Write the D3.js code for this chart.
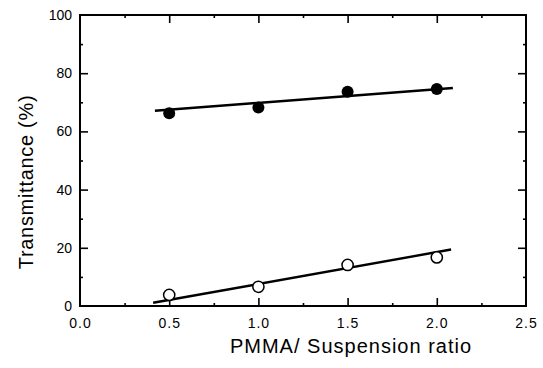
<!DOCTYPE html>
<html><head><meta charset="utf-8">
<script src="https://cdn.jsdelivr.net/npm/d3@7"></script>
<style>body{margin:0;background:#fff}svg{display:block}</style>
</head><body><svg id="c" width="543" height="368"></svg>
<script>
const ratios = [0.5, 1.0, 1.5, 2.0];
const filledValues = [66.2, 68.2, 73.6, 74.6];
const openValues = [3.8, 6.6, 14.1, 16.7];
const filledFit = [[0.42, 67.1], [2.09, 74.9]];
const openFit = [[0.41, 1.1], [2.08, 19.4]];
const xTicks = [0.0, 0.5, 1.0, 1.5, 2.0, 2.5];
const yTicks = [0, 20, 40, 60, 80, 100];
const xMinor = [0.25, 0.75, 1.25, 1.75, 2.25];
const yMinor = [10, 30, 50, 70, 90];
const xTitle = "PMMA/ Suspension ratio";
const yTitle = "Transmittance (%)";

const svg = d3.select("#c");
const L = 80, R = 526, T = 15, B = 306;
const x = d3.scaleLinear().domain([0, 2.5]).range([L, R]);
const y = d3.scaleLinear().domain([0, 100]).range([B, T]);
const font = "'Liberation Sans', Arial, sans-serif";

// frame
svg.append("rect").attr("x", L).attr("y", T).attr("width", R - L).attr("height", B - T)
  .attr("fill", "none").attr("stroke", "#000").attr("stroke-width", 2);

function axis(gen, tr, size, vals) {
  const g = svg.append("g").attr("transform", tr)
    .call(gen.tickValues(vals).tickSize(size).tickFormat(""));
  g.select(".domain").remove();
  g.selectAll(".tick line").attr("stroke", "#000").attr("stroke-width", 1.6);
  return g;
}
// inward ticks
axis(d3.axisBottom(x), `translate(0,${B})`, -8, xTicks.slice(1, -1));
axis(d3.axisBottom(x), `translate(0,${B})`, -3, xMinor);
axis(d3.axisTop(x), `translate(0,${T})`, -8, xTicks.slice(1, -1));
axis(d3.axisTop(x), `translate(0,${T})`, -3, xMinor);
axis(d3.axisLeft(y), `translate(${L},0)`, -8, yTicks.slice(1, -1));
axis(d3.axisLeft(y), `translate(${L},0)`, -3, yMinor);
axis(d3.axisRight(y), `translate(${R},0)`, -8, yTicks.slice(1, -1));
axis(d3.axisRight(y), `translate(${R},0)`, -3, yMinor);

// tick labels
const xl = svg.append("g").attr("transform", `translate(0,${B})`)
  .call(d3.axisBottom(x).tickValues(xTicks).tickSize(0).tickPadding(12).tickFormat(d3.format(".1f")));
xl.select(".domain").remove();
xl.selectAll("text").attr("font-family", font).attr("font-size", 14).attr("letter-spacing", 1).attr("fill", "#000");
const yl = svg.append("g").attr("transform", `translate(${L},0)`)
  .call(d3.axisLeft(y).tickValues(yTicks).tickSize(0).tickPadding(8).tickFormat(d3.format("d")));
yl.select(".domain").remove();
yl.selectAll("text").attr("font-family", font).attr("font-size", 14).attr("fill", "#000");

// fit lines
const line = d3.line().x(d => x(d[0])).y(d => y(d[1]));
svg.append("path").attr("d", line(filledFit)).attr("fill", "none").attr("stroke", "#000").attr("stroke-width", 2.4);
svg.append("path").attr("d", line(openFit)).attr("fill", "none").attr("stroke", "#000").attr("stroke-width", 2.4);

// points
svg.append("g").selectAll("circle").data(ratios).join("circle")
  .attr("cx", d => x(d)).attr("cy", (d, i) => y(filledValues[i])).attr("r", 6).attr("fill", "#000");
svg.append("g").selectAll("circle").data(ratios).join("circle")
  .attr("cx", d => x(d)).attr("cy", (d, i) => y(openValues[i])).attr("r", 5.6)
  .attr("fill", "#fff").attr("stroke", "#000").attr("stroke-width", 1.5);

// titles
svg.append("text").attr("x", 351).attr("y", 353).attr("text-anchor", "middle")
  .attr("font-family", font).attr("font-size", 20).attr("letter-spacing", 1).text(xTitle);
svg.append("text").attr("transform", "translate(33,182) rotate(-90)").attr("text-anchor", "middle")
  .attr("font-family", font).attr("font-size", 20).attr("letter-spacing", 0.7).text(yTitle);
</script></body></html>
